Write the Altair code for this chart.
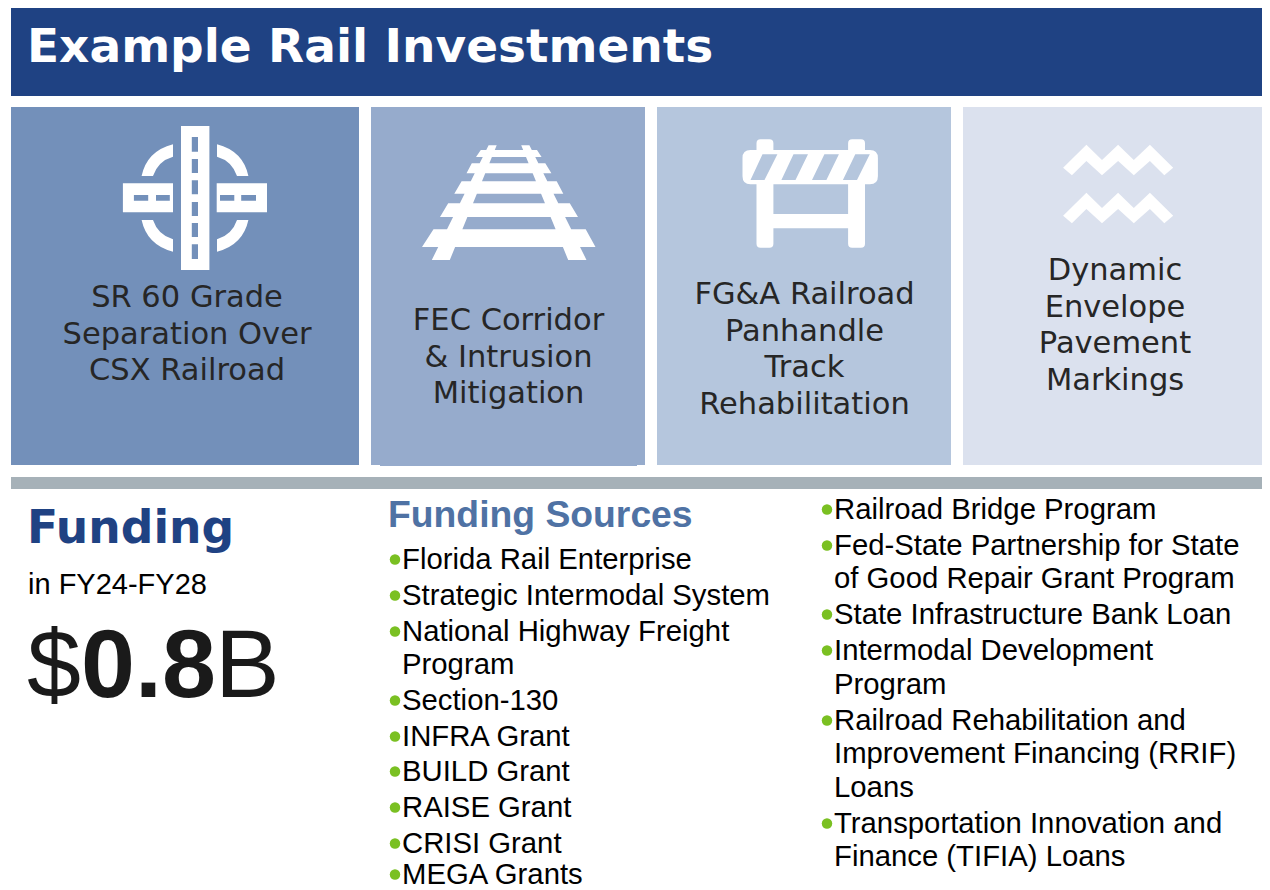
import altair as alt
import pandas as pd

# ---------- content ----------
title_text = "Example Rail Investments"
panel_lines = [
    ["SR 60 Grade", "Separation Over", "CSX Railroad"],
    ["FEC Corridor", "& Intrusion", "Mitigation"],
    ["FG&A Railroad", "Panhandle", "Track", "Rehabilitation"],
    ["Dynamic", "Envelope", "Pavement", "Markings"],
]
funding_head = "Funding"
funding_sub = "in FY24-FY28"
sources_head = "Funding Sources"
col1_items = [["Florida Rail Enterprise"], ["Strategic Intermodal System"],
              ["National Highway Freight", "Program"], ["Section-130"], ["INFRA Grant"],
              ["BUILD Grant"], ["RAISE Grant"], ["CRISI Grant"], ["MEGA Grants"]]
col2_items = [["Railroad Bridge Program"],
              ["Fed-State Partnership for State", "of Good Repair Grant Program"],
              ["State Infrastructure Bank Loan"],
              ["Intermodal Development", "Program"],
              ["Railroad Rehabilitation and", "Improvement Financing (RRIF)", "Loans"],
              ["Transportation Innovation and", "Finance (TIFIA) Loans"]]

# ---------- layout (page pixels) ----------
panel_x0 = [11, 371, 657, 963]
panel_x1 = [359, 645, 951, 1270]
panel_fill = ["#7390BA", "#96ABCC", "#B5C6DD", "#DBE1EE"]
panel_center = [187, 508.5, 804.5, 1115]
panel_first_base = [307, 330, 304, 280]
panel_step = 36.6
col1_base = [569, 605, 641, 674, 710, 746, 781, 817, 853, 884]
col2_base = [519, 555, 588, 624, 660, 694, 730, 763, 797, 833, 866]

SANS = "Liberation Sans"
WIDE = "DejaVu Sans"
W, H = 1254, 882
X = alt.Scale(domain=[8, 8 + W], range=[0, W], nice=False, zero=False)
Y = alt.Scale(domain=[8, 8 + H], range=[0, H], nice=False, zero=False)
x_ = lambda f="x": alt.X(f"{f}:Q", scale=X, axis=None, title=None)
y_ = lambda f="y": alt.Y(f"{f}:Q", scale=Y, axis=None, title=None)


def rects(rows, color):
    df = pd.DataFrame(rows, columns=["x", "x2", "y", "y2"])
    return alt.Chart(df).mark_rect(color=color, strokeWidth=0, clip=True).encode(
        x=x_(), x2="x2:Q", y=y_(), y2="y2:Q")


def text(rows, size, color="#000000", font=SANS, weight="normal", align="left"):
    df = pd.DataFrame(rows, columns=["x", "y", "t"])
    return alt.Chart(df).mark_text(
        font=font, fontSize=size, color=color, fontWeight=weight,
        align=align, baseline="alphabetic").encode(x=x_(), y=y_(), text="t:N")


# ---------- icon outlines ----------
def P(cmds, ox, oy):
    out = []
    for c in cmds:
        nums = c[1:]
        xy = [round(v - (ox if i % 2 == 0 else oy), 2) for i, v in enumerate(nums)]
        out.append(c[0] + " ".join(str(v) for v in xy))
    return "".join(out) + "Z"


def R(x0, y0, x1, y1, ox, oy, hole=False):
    pts = [("M", x0, y0), ("L", x1, y0), ("L", x1, y1), ("L", x0, y1)]
    if hole:
        pts = [("M", x0, y0), ("L", x0, y1), ("L", x1, y1), ("L", x1, y0)]
    return P(pts, ox, oy)


def poly(points, ox, oy):
    return P([("M",) + points[0]] + [("L",) + p for p in points[1:]], ox, oy)


def icon_crossing():
    ox, oy = 195, 198
    s = [R(181, 126, 209.4, 270, ox, oy)]
    for a, b in [(137, 151.7), (159, 173), (180.3, 194.3), (202, 216), (223, 237), (244.3, 259)]:
        s.append(R(191.8, a, 198, b, ox, oy, True))
    s.append(R(122.9, 183.3, 173, 212.3, ox, oy))
    s.append(R(216.7, 183.3, 267, 212.3, ox, oy))
    for a, b in [(133.9, 148.2), (156, 169.8), (220, 234.3), (241.2, 256)]:
        s.append(R(a, 195, b, 200.7, ox, oy, True))
    for sx, sy in [(0, 0), (1, 0), (0, 1), (1, 1)]:
        fx = (lambda v: 390 - v) if sx else (lambda v: v)
        fy = (lambda v: 396 - v) if sy else (lambda v: v)
        s.append(P([("M", fx(173), fy(144.3)),
                    ("Q", fx(147), fy(151), fx(141.6), fy(176)),
                    ("L", fx(153), fy(176)),
                    ("Q", fx(158), fy(161), fx(173), fy(156.7))], ox, oy))
    return "".join(s), ox, oy


def icon_track():
    ox, oy = 509, 203
    s = []
    sl = [(150, 157, 480.8, 537, 476, 541.6), (163.3, 173.3, 471.8, 545.3, 466.5, 551.4),
          (181.3, 193.7, 461.6, 556.7, 454.3, 563.3), (203.3, 217, 448.2, 569.8, 440, 578),
          (229.3, 247, 433.5, 585.7, 422, 595.5)]
    for t, b, tl, tr, bl, br in sl:
        s.append(poly([(tl, t), (tr, t), (br, b), (bl, b)], ox, oy))
    s.append(poly([(488.6, 145.3), (496.7, 145.3), (449.8, 260), (431.8, 260)], ox, oy))
    s.append(poly([(521.2, 145.3), (529.4, 145.3), (586.5, 260), (568.2, 260)], ox, oy))
    return "".join(s), ox, oy


def rounded(x0, y0, x1, y1, r, ox, oy, top=True, bottom=True):
    c = []
    if top:
        c += [("M", x0 + r, y0), ("L", x1 - r, y0), ("Q", x1, y0, x1, y0 + r)]
    else:
        c += [("M", x0, y0), ("L", x1, y0)]
    if bottom:
        c += [("L", x1, y1 - r), ("Q", x1, y1, x1 - r, y1), ("L", x0 + r, y1), ("Q", x0, y1, x0, y1 - r)]
    else:
        c += [("L", x1, y1), ("L", x0, y1)]
    if top:
        c += [("L", x0, y0 + r), ("Q", x0, y0, x0 + r, y0)]
    return P(c, ox, oy)


def icon_barricade():
    ox, oy = 810, 193
    s = [rounded(742.5, 150, 877.9, 184.3, 8, ox, oy)]
    for a, b in [(756.5, 773.4), (848.1, 865)]:
        s.append(rounded(a, 139.3, b, 150.2, 4, ox, oy, bottom=False))
        s.append(rounded(a, 184, b, 247.7, 4, ox, oy, top=False))
    s.append(R(773, 214, 848.5, 228.3, ox, oy))
    for tl, tr, bl, br in [(762.5, 777.4, 750.5, 764.5), (793.5, 808, 781.4, 795.5),
                           (824.4, 838.9, 812, 826.4), (855.3, 869.8, 842.9, 857)]:
        s.append(poly([(tl, 154.3), (bl, 180), (br, 180), (tr, 154.3)], ox, oy))
    return "".join(s), ox, oy


def icon_zigzag():
    ox, oy = 1118, 184
    s = []
    for d in (0, 48):
        pts = [(1063.1, 167.7), (1086.4, 144.7), (1102, 160), (1118.1, 144.7), (1133.8, 160),
               (1149.9, 144.7), (1173.2, 167.7), (1164.3, 175.3), (1149.9, 161), (1133.8, 175.3),
               (1118.1, 161), (1102, 175.3), (1086.4, 161), (1071.9, 175.3)]
        s.append(poly([(a, b + d) for a, b in pts], ox, oy))
    return "".join(s), ox, oy


def icon(fn):
    path, ox, oy = fn()
    df = pd.DataFrame({"x": [ox], "y": [oy]})
    return alt.Chart(df).mark_point(
        shape=path, size=4, filled=True, fill="#FFFFFF", opacity=1, strokeWidth=0
    ).encode(x=x_(), y=y_())


# ---------- layers ----------
layers = [rects([(11, 1270, 8, 96)], "#1F4283")]
for i in range(4):
    layers.append(rects([(panel_x0[i], panel_x1[i], 107, 465)], panel_fill[i]))
layers.append(rects([(380, 637, 465, 466)], panel_fill[1]))
layers.append(rects([(11, 1270, 477, 489)], "#A6B1B8"))
for fn in (icon_crossing, icon_track, icon_barricade, icon_zigzag):
    layers.append(icon(fn))

layers.append(text([(27, 62, title_text)], 47, "#FFFFFF", WIDE, "bold"))
rows = []
for i, lines in enumerate(panel_lines):
    for j, line in enumerate(lines):
        rows.append((panel_center[i], panel_first_base[i] + j * panel_step, line))
layers.append(text(rows, 30.5, "#262626", WIDE, "normal", "center"))

layers.append(text([(27, 543, funding_head)], 45.6, "#1F4283", WIDE, "bold"))
layers.append(text([(28, 594, funding_sub)], 29, "#000000"))
layers.append(text([(27, 697, "$"), (215, 697, "B")], 97, "#1A1A1A"))
layers.append(text([(81, 697, "0.8")], 97, "#1A1A1A", SANS, "bold"))
layers.append(text([(388, 527, sources_head)], 37.3, "#4F72A4", SANS, "bold"))

b_rows, t_rows = [], []
for items, bases, tx, bx in [(col1_items, col1_base, 402, 395), (col2_items, col2_base, 834, 827)]:
    k = 0
    for item in items:
        b_rows.append((bx, bases[k] - 9.5))
        for line in item:
            t_rows.append((tx, bases[k], line))
            k += 1
layers.append(text(t_rows, 29.3))
bdf = pd.DataFrame(b_rows, columns=["x", "y"])
layers.append(alt.Chart(bdf).mark_circle(size=110, color="#7AC022", opacity=1).encode(x=x_(), y=y_()))

chart = alt.layer(*layers).properties(
    width=W, height=H, padding=0,
    autosize=alt.AutoSizeParams(type="none", contains="padding"),
    background="#FFFFFF",
).configure_view(stroke=None)

chart.save("out.html", embed_options={"renderer": "svg", "actions": False})
